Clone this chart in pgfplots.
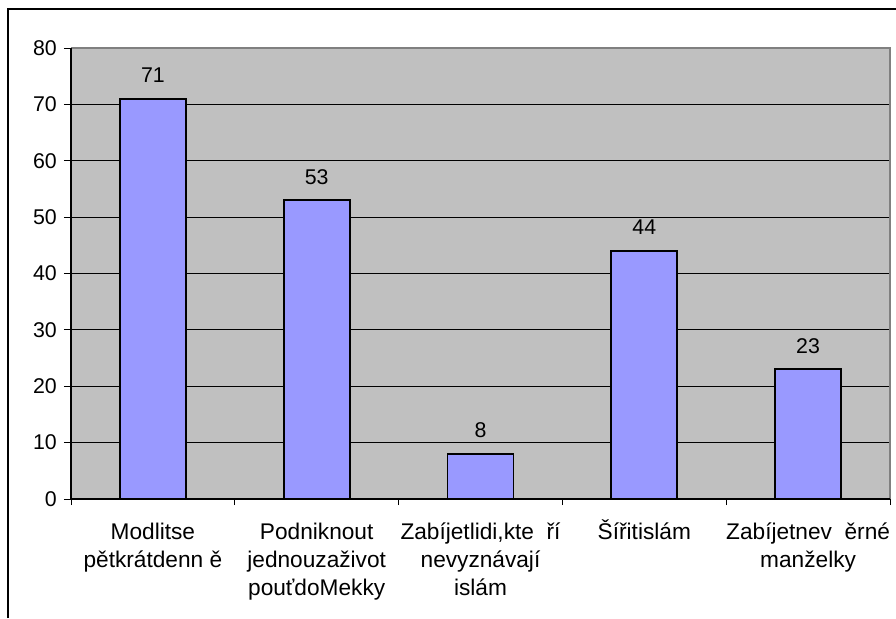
\documentclass[border=0pt]{standalone}
\usepackage{fontspec}
\setmainfont{Liberation Sans}
\usepackage{pgfplots}
\pgfplotsset{compat=1.18}
\definecolor{plotbg}{HTML}{C0C0C0}
\definecolor{plotborder}{HTML}{808080}
\definecolor{barfill}{HTML}{9999FF}
\begin{document}
\begin{tikzpicture}
\useasboundingbox (0,0) rectangle (672pt,-463.5pt);
\fill[white] (0,0) rectangle (672pt,-463.5pt);
\draw[black, line width=0.9pt] (6pt,-463.5pt) -- (6pt,-6.75pt) -- (672pt,-6.75pt);
\begin{axis}[
  at={(53.25pt,-374.25pt)}, anchor=south west,
  scale only axis, width=614.25pt, height=338.25pt,
  xmin=-0.5, xmax=4.5, ymin=0, ymax=80,
  ytick={0,10,...,80},
  xtick={0,1,2,3,4},
  xticklabels={{\rule{0pt}{15pt}Modlitse\\pětkrátdenn ě},
               {\rule{0pt}{15pt}Podniknout\\jednouzaživot\\pouťdoMekky},
               {\rule{0pt}{15pt}Zabíjetlidi,kte\ \ ří\\nevyznávají\\islám},
               {\rule{0pt}{15pt}Šířitislám},
               {\rule{0pt}{15pt}Zabíjetnev\ \ ěrné\\manželky}},
  minor xtick={-0.5,0.5,...,4.5},
  xtick pos=bottom, ytick pos=left,
  tick align=outside,
  major tick length=5.25pt,
  minor tick length=4.5pt,
  major x tick style={draw=none},
  minor x tick style={draw=black, line width=0.75pt},
  major y tick style={draw=black, line width=0.75pt},
  axis line style={draw=none},
  axis background/.style={fill=plotbg},
  ymajorgrids,
  major grid style={black, line width=0.75pt},
  xticklabel style={align=center, anchor=north, inner sep=0pt, yshift=-9.75pt,
     font=\fontsize{17}{21}\selectfont},
  yticklabel style={anchor=east, inner sep=0pt, xshift=-5.25pt, font=\fontsize{16}{18}\selectfont},
  /pgf/number format/assume math mode=true,
  clip=false,
]
\addplot[ybar, bar width=49.5pt, fill=barfill, draw=black, line width=1.4pt,
  nodes near coords,
  every node near coord/.append style={font=\fontsize{16}{18}\selectfont, anchor=base, inner sep=0pt, yshift=12pt, black}]
  coordinates {(0,71) (1,53) (2,8) (3,44) (4,23)};
\draw[plotborder, line width=1.5pt] (rel axis cs:0,1) -- (rel axis cs:1,1) -- (rel axis cs:1,0);
\draw[black, line width=0.9pt] (rel axis cs:0,1) -- (rel axis cs:0,0) -- (rel axis cs:1,0);
\end{axis}
\end{tikzpicture}
\end{document}
